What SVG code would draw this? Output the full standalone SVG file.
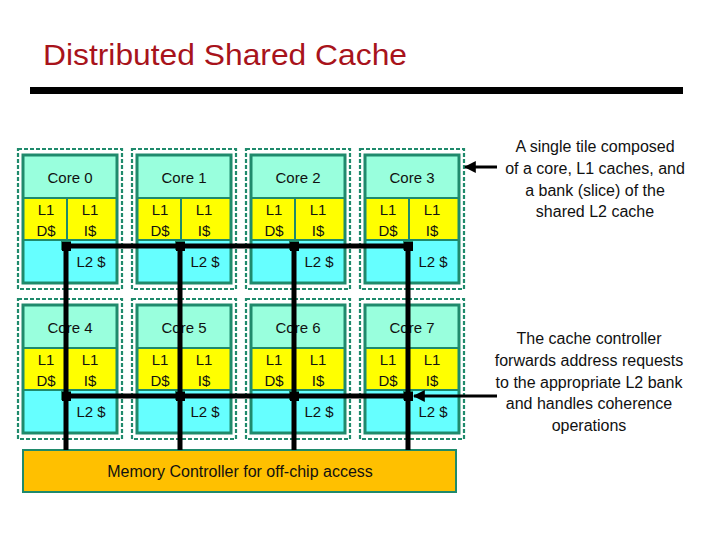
<svg xmlns="http://www.w3.org/2000/svg" width="720" height="540" viewBox="0 0 720 540">
<defs>
<style>
.outer{fill:none;stroke:#1f8a6c;stroke-width:2.2;stroke-dasharray:4 2}
.box{fill:none;stroke:#1f8a6c;stroke-width:3}
.core{fill:#99ffdd;stroke:#1f8a6c;stroke-width:2}
.l1{fill:#ffff00;stroke:#1f8a6c;stroke-width:2}
.l2{fill:#66ffff;stroke:#1f8a6c;stroke-width:2}
.t{font-family:"Liberation Sans",Arial,sans-serif;font-size:15px;fill:#111;text-anchor:middle}
.note{font-family:"Liberation Sans",Arial,sans-serif;font-size:16px;fill:#111;text-anchor:middle}
.bus{stroke:#000;stroke-width:5;fill:none}
.arr{stroke:#000;stroke-width:3;fill:none}
</style>
<marker id="ah" viewBox="0 0 10 10" refX="9" refY="5" markerWidth="4" markerHeight="4" orient="auto" markerUnits="strokeWidth">
<path d="M0,0 L10,5 L0,10 z" fill="#000"/>
</marker>
<g id="tile">
<rect class="outer" x="-5" y="-6" width="104" height="140"/>
<rect class="core" x="0" y="0" width="94" height="43"/>
<rect class="l1" x="0" y="43" width="44" height="42"/>
<rect class="l1" x="44" y="43" width="50" height="42"/>
<rect class="l2" x="0" y="85" width="94" height="43"/>
<rect class="box" x="0" y="0" width="94" height="128"/>
<rect x="38" y="86" width="10" height="9" fill="#1f8a6c"/>
<text class="t" x="23" y="60">L1</text>
<text class="t" x="23" y="81">D$</text>
<text class="t" x="67" y="60">L1</text>
<text class="t" x="67" y="81">I$</text>
<text class="t" x="68" y="112">L2 $</text>
</g>
</defs>
<text x="43" y="65" font-family="'Liberation Sans',Arial,sans-serif" font-size="29" fill="#a8131b" textLength="364" lengthAdjust="spacingAndGlyphs">Distributed Shared Cache</text>
<rect x="30" y="87" width="653" height="7" fill="#000"/>
<g id="tile0"><use href="#tile" x="23" y="155"/><text class="t" x="70" y="183">Core 0</text></g>
<g id="tile1"><use href="#tile" x="137" y="155"/><text class="t" x="184" y="183">Core 1</text></g>
<g id="tile2"><use href="#tile" x="251" y="155"/><text class="t" x="298" y="183">Core 2</text></g>
<g id="tile3"><use href="#tile" x="365" y="155"/><text class="t" x="412" y="183">Core 3</text></g>
<g id="tile4"><use href="#tile" x="23" y="305"/><text class="t" x="70" y="333">Core 4</text></g>
<g id="tile5"><use href="#tile" x="137" y="305"/><text class="t" x="184" y="333">Core 5</text></g>
<g id="tile6"><use href="#tile" x="251" y="305"/><text class="t" x="298" y="333">Core 6</text></g>
<g id="tile7"><use href="#tile" x="365" y="305"/><text class="t" x="412" y="333">Core 7</text></g>
<g id="memctrl">
<rect x="23" y="450" width="433" height="42" fill="#ffc000" stroke="#1f8a6c" stroke-width="2"/>
<text class="note" x="240" y="477">Memory Controller for off-chip access</text>
</g>
<g id="connectors">
<path class="bus" d="M63,246 H410 M63,396 H410"/>
<path class="bus" d="M66,246 V450 M180,246 V450 M294,246 V450 M408,246 V450"/>
<g fill="#000">
<rect x="62" y="242" width="9" height="9"/><rect x="176" y="242" width="9" height="9"/><rect x="290" y="242" width="9" height="9"/><rect x="404" y="242" width="9" height="9"/>
<rect x="62" y="392" width="9" height="9"/><rect x="176" y="392" width="9" height="9"/><rect x="290" y="392" width="9" height="9"/><rect x="404" y="392" width="9" height="9"/>
</g>
<line class="arr" x1="497" y1="167" x2="465" y2="167" marker-end="url(#ah)"/>
<line class="arr" x1="497" y1="396" x2="414" y2="396" marker-end="url(#ah)"/>
</g>
<g id="note1">
<text class="note" x="595" y="152">A single tile composed</text>
<text class="note" x="595" y="174">of a core, L1 caches, and</text>
<text class="note" x="595" y="196">a bank (slice) of the</text>
<text class="note" x="595" y="217">shared L2 cache</text>
</g>
<g id="note2">
<text class="note" x="589" y="344">The cache controller</text>
<text class="note" x="589" y="366">forwards address requests</text>
<text class="note" x="589" y="388">to the appropriate L2 bank</text>
<text class="note" x="589" y="409">and handles coherence</text>
<text class="note" x="589" y="431">operations</text>
</g>
</svg>
